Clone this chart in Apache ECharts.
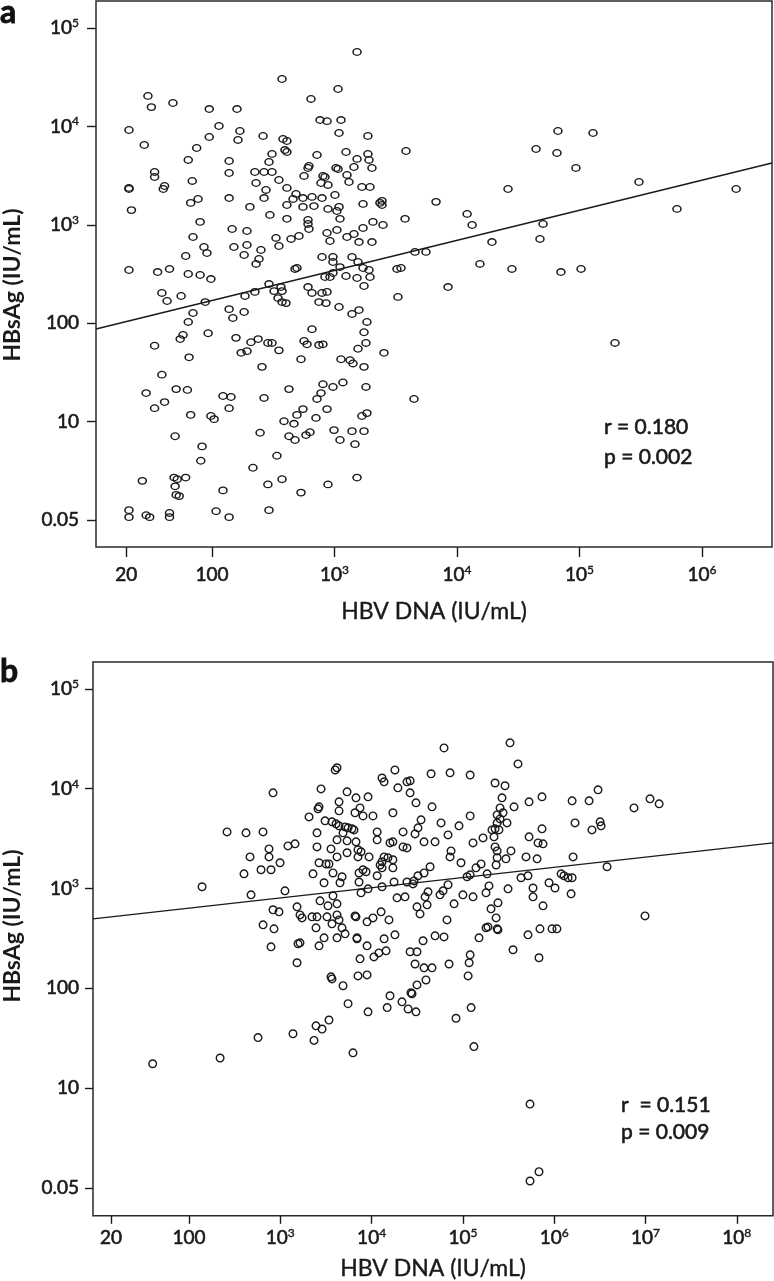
<!DOCTYPE html>
<html>
<head>
<meta charset="utf-8">
<script src="https://cdn.jsdelivr.net/npm/echarts@6/dist/echarts.min.js"></script>
<style>
  html, body { margin: 0; padding: 0; background: #fff; }
  #chart { width: 774px; height: 1281px; }
</style>
</head>
<body>
<div id="chart"></div>
<script>
// panel a: [HBV DNA, HBsAg]
const pointsA = [
  [1528,5.7e4],[373,3.03e4],[1069,2.4e4],[643,1.9e4],[30,2.04e4],[32,1.57e4],[48,1.73e4],[95,1.5e4],[160,1.5e4],[21,9190],
  [114,1.01e4],[169,8980],[163,7280],[95,7800],[261,7980],[380,7450],[409,7110],[762,1.16e4],[869,1.13e4],[1130,1.16e4],
  [1089,8570],[1875,7980],[28,6470],[75,6030],[64,4560],[138,4450],[309,5250],[292,4350],[394,5750],[409,5490],
  [720,5120],[1242,5490],[1528,4670],[1875,5250],[1914,4560],[34,3440],[34,3060],[69,2790],[138,3360],[224,3440],
  [266,3440],[309,3440],[352,2850],[619,3960],[608,3780],[564,3130],[805,3130],[836,3060],[1028,3780],[1069,3690],
  [1265,3210],[1313,2720],[1442,3870],[2023,3780],[21,2310],[21,2370],[41,2480],[40,2310],[229,2660],[276,2260],
  [266,1870],[409,2370],[485,2060],[459,1830],[776,2660],[885,2540],[1675,2420],[1950,2420],[22,1410],[67,1670],
  [77,1830],[138,1870],[204,1520],[409,1590],[553,1870],[655,1920],[791,1870],[1009,2010],[680,1550],[553,1520],
  [885,1450],[1089,1520],[1710,1630],[2350,1670],[2443,1750],[80,1070],[297,1260],[409,1150],[608,1120],[608,1020],
  [619,906],[1047,1380],[1109,1150],[1710,927],[2061,1070],[2489,995],[146,906],[193,865],[869,826],[919,684],
  [1047,885],[1265,752],[1442,807],[1585,668],[2023,668],[70,752],[86,595],[91,516],[61,482],[151,595],
  [193,623],[251,555],[183,493],[242,449],[229,400],[333,735],[352,609],[442,718],[513,770],[791,471],
  [972,471],[972,419],[1109,372],[1390,471],[1556,419],[1710,364],[1914,347],[476,356],[494,364],[21,347],
  [36,331],[45,356],[64,316],[80,309],[98,281],[836,295],[919,295],[972,324],[1242,302],[1528,288],
  [1950,295],[3236,356],[292,250],[366,233],[608,233],[1742,239],
  [2443,1590],[3837,5620],[3767,1150],[6745,1710],[4540,530],[5585,530],[3491,364],[3296,185],[8453,233],[1.21e4,1290],
  [1.33e4,995],[1.93e4,668],[1.54e4,400],[2.81e4,356],[2.61e4,2310],[4.42e4,5890],[6.67e4,8980],[6.55e4,5370],[1.29e5,8570],[9.36e4,3780],
  [5.04e4,1020],[4.76e4,718],[7.06e4,331],[1.03e5,356],[3.06e5,2720],[6.25e5,1450],[1.9e6,2310],[2535,50],[4457,17],[1.95e5,63],
  [39,203],[43,168],[56,189],[88,164],[186,189],[224,208],[321,212],[373,212],[346,180],[373,164],
  [402,160],[655,203],[791,203],[869,208],[747,164],[853,160],[1089,146],[1390,124],[1585,136],[70,127],
  [64,103],[138,139],[148,113],[183,130],[1841,103],[34,59],[58,76],[55,69],[93,79],[157,71],
  [208,64],[238,69],[286,63],[309,63],[352,53],[173,50],[193,52],[655,87],[564,66],[597,61],
  [747,60],[805,61],[1742,81],[1807,63],[1556,55],[65,45],[533,43],[1340,42],[1416,39],[1130,43],
  [1742,36],[256,36],[39,30],[29,19.5],[41,15.8],[34,13.7],[51,21.4],[63,21],[123,18.2],[143,17.8],
  [138,13.7],[266,17.4],[425,21.4],[1172,25],[805,24],[776,19.5],[720,17],[972,22.5],[1807,22.5],[553,13.4],
  [494,11.7],[869,13.4],[706,10.9],[67,11.7],[98,11.4],[104,10.6],[1675,11.4],[1841,12.2],[387,10.1],[467,9.5],
  [247,7.7],[50,7.1],[425,7.1],[476,6.5],[585,7.3],[631,7.8],[991,8.2],[1109,6.5],[1390,8.0],[1469,5.9],
  [1742,8.0],[83,5.6],[81,4.0],[339,4.5],[216,3.4],[27,2.5],[49,2.7],[52,2.6],[61,2.7],[50,2.2],
  [51,1.8],[54,1.75],[123,2.0],[286,2.3],[373,2.6],[533,1.9],[885,2.3],[1528,2.7],[21,1.26],[21,1.07],
  [29,1.12],[31,1.07],[45,1.18],[45,1.07],[108,1.23],[138,1.07],[292,1.26]
];

// panel b
const pointsB = [
  [139,1040],[261,3690],[219,20],[40,17.5],
  [4178,1.62e4],[3990,1.54e4],[1.8e4,1.54e4],[1.3e4,1.28e4],[1.37e4,1.17e4],[832,9080],[2793,9950],[5383,9290],[1.94e4,1.02e4],[4395,7380],
  [6745,8090],[9141,8280],[2655,6580],[2588,6280],[4395,6000],[7464,6420],[6577,5730],[8052,5330],[1.035e4,5330],[1.71e4,5730],
  [2063,5210],[3090,4760],[3681,4650],[4074,4440],[4395,4240],[5117,4140],[5521,4050],[6095,3960],[6412,3860],[4864,3610],
  [2523,3610],[1.15e4,3690],[421,3610],[647,3690],[1213,2670],[1449,2800],[752,2490],[2523,2610],[4178,3070],[5383,3000],
  [6745,2930],[1.15e4,3070],[1.59e4,2860],[1.71e4,2930],[3589,2490],[7096,2440],[7656,2330],[466,2070],[752,2070],[5383,2280],
  [4178,2070],[7096,2070],[9376,2070],[1.37e4,2070],[1.51e4,2030],
  [993,1810],[400,1400],[615,1540],[791,1540],[2281,1400],[2655,1810],[3170,1760],[3412,1760],[1.3e4,1850],[1.71e4,1940],
  [3776,1430],[4742,1310],[4508,1140],[3013,1140],[7278,1430],[8052,1540],[8690,1470],[1.15e4,1340],[1.3e4,1610],[1.71e4,1610],
  [1.24e4,1720],[7278,1160],[1.3e4,1040],[1.76e4,1160],[9141,991],[7656,904],[478,863],[1125,946],[3776,843],[2723,751],
  [3327,670],[4178,701],[1.9e4,805],[1524,654],[832,611],[968,583],[1644,543],[1730,507],[2223,519],[2523,519],
  [3246,519],[4178,543],[4395,484],[6577,531],[6745,519],[1.035e4,507],[1.27e4,583],[1.55e4,484],[8913,463],[647,432],
  [853,394],[2460,403],[3681,442],[4742,403],[5117,351],[4178,320],[3013,320],[1644,285],[1563,279],[791,260],
  [2655,266],[6918,313],[6918,320],[8913,266],[1.37e4,313],[1.8e4,343],[1.06e4,206],[1.2e4,226],[1.44e4,237],[7464,197],
  [1524,180],[7096,133],[8913,136],[3589,130],[3681,124],[4864,106],[1.59e4,84],[5521,70],[1.48e4,64],[9141,58],
  [3412,48],[2460,42],[2864,39],[2339,30],[1377,35],[570,32],[6252,22.5],
  [6.21e4,2.56e4],[3.28e5,2.88e4],[4.01e5,1.77e4],[4.48e4,1.41e4],[7.23e4,1.44e4],[1.2e5,1.37e4],[2.25e5,1.14e4],[2.89e5,1.07e4],[2.64e4,1.2e4],[2.44e4,1.17e4],
  [2.64e4,9080],[2.68e5,8090],[3.06e4,7210],[4.59e4,6580],[3.63e5,6580],[5.3e5,7380],[7.35e5,8280],[1.57e6,7550],[2.55e5,6420],[2.37e5,5460],
  [2.75e5,5730],[2.55e5,4980],[3.04e5,4540],[2.37e5,4540],[3.48e4,4870],[5.76e4,4540],[9.06e4,4240],[1.2e5,5330],[1.69e6,4540],[3.22e4,4050],
  [2.99e4,3520],[2.21e4,3690],[6.87e4,3440],[2.08e5,3860],[2.25e5,3960],[2.48e5,3860],[2.19e5,3290],[1.66e5,3210],[7.35e5,3960],[5.3e5,3290],
  [6.65e5,2860],[7.54e5,2800],[1.29e5,2860],[3.75e4,2930],[4.95e4,2930],[2.21e4,2610],[2.44e4,2550],[2.25e5,2610],[2.37e5,2380],[3.36e5,2380],
  [7.41e4,2380],[7.23e4,2070],[2.37e5,2030],[4.91e5,2070],[6.49e5,1980],[1.61e6,2070],
  [9.53e4,1810],[2.96e5,1980],[1.39e5,1610],[1.58e5,1760],[2.31e5,1720],[4.37e4,1650],[3.75e4,1430],[3.22e4,1340],[2.91e4,1190],[2.44e4,1160],
  [2.84e4,1110],[1.11e5,1310],[1.2e5,1370],[1.84e5,1400],[4.33e5,1280],[5.16e5,1340],[1.19e6,1400],[1.28e6,1340],[1.42e6,1280],[1.57e6,1280],
  [6.87e4,1090],[1.93e5,1060],[3.12e5,991],[5.86e5,1010],[5.86e5,824],[8.77e5,1140],[1.02e6,1010],[1.53e6,883],[2.32e4,824],[4.15e4,925],
  [3.85e4,824],[4.05e4,685],[3.14e4,654],[3.39e4,556],[5.61e4,863],[6.06e4,946],[1.0e5,863],[1.29e5,824],[1.79e5,904],[8.0e4,701],
  [2.42e5,718],[2.03e5,625],[7.54e5,670],[6.7e4,484],[2.31e5,507],[1.79e5,403],[1.88e5,412],[2.37e5,394],[2.42e5,385],[1.5e5,320],
  [3.66e4,299],[4.95e4,335],[6.21e4,327],[5.16e5,343],[6.98e5,394],[9.46e5,394],[1.07e6,394],[2.64e4,232],[3.14e4,232],[3.54e5,243],
  [6.81e5,202],[1.2e5,216],[1.17e5,180],[1.14e5,133],[7.05e4,175],[2.99e4,175],[3.75e4,160],[4.59e4,160],[3.94e4,121],[3.14e4,108],
  [2.7e4,90],[2.77e4,88],[2.15e4,73],[1.23e5,64],[2.51e4,62],[3.06e4,58],[8.4e4,50],[1.32e5,26],[5.43e5,6.9],[5.43e5,1.17],
  [6.81e5,1.45],[3.02e6,9730],[2.41e6,7550],[3.18e6,4650],[3.26e6,4240],[2.59e6,3860],[7.48e6,6420],[1.12e7,7910],[1.41e7,7050],[3.79e6,1650],
  [9.87e6,531]
];

// fitted lines, ends at the plot edges
const fitA = [[11.3, 87.3], [3.73e6, 4246]];
const fitB = [[8.88, 496], [2.49e8, 2864]];

const statsA = ['r = 0.180', 'p = 0.002'];
const statsB = ['r  = 0.151', 'p = 0.009'];

// tick positions and the text printed there
const yTickVals = [1, 10, 100, 1e3, 1e4, 1e5];
const yTickLabels = ['0.05', '10', '100', '10^3', '10^4', '10^5'];
const xTickValsA = [20, 100, 1e3, 1e4, 1e5, 1e6];
const xTickLabelsA = ['20', '100', '10^3', '10^4', '10^5', '10^6'];
const xTickValsB = [14, 100, 1e3, 1e4, 1e5, 1e6, 1e7, 1e8];
const xTickLabelsB = ['20', '100', '10^3', '10^4', '10^5', '10^6', '10^7', '10^8'];

const ink = '#1a1a1a';
const font = 'Lato';

function tickText(vals, labels) {
  return function (v) {
    let best = 0;
    for (let i = 1; i < vals.length; i++) {
      if (Math.abs(Math.log10(vals[i] / v)) < Math.abs(Math.log10(vals[best] / v))) best = i;
    }
    const parts = labels[best].split('^');
    return parts.length > 1 ? '{n|' + parts[0] + '}{s|' + parts[1] + '}' : '{n|' + parts[0] + '}';
  };
}

// a thin outline in the text colour gives the semi-bold look of the original
const rich = {
  n: { fontSize: 19, fontFamily: font, color: ink, lineHeight: 22, textBorderColor: ink, textBorderWidth: 0.6 },
  s: { fontSize: 12, fontFamily: font, color: ink, lineHeight: 12, verticalAlign: 'top', textBorderColor: ink, textBorderWidth: 0.4 }
};

function xAxisFor(grid, min, max, vals, labels, gap, margin, tickLen) {
  return {
    gridIndex: grid, type: 'log', logBase: 10, min: min, max: max,
    name: 'HBV DNA (IU/mL)', nameLocation: 'middle', nameGap: gap,
    nameTextStyle: { fontFamily: font, fontSize: 23, color: ink, textBorderColor: ink, textBorderWidth: 0.4 },
    axisLine: { show: false },
    axisTick: { show: true, customValues: vals, length: tickLen, lineStyle: { color: ink, width: 1.4 } },
    axisLabel: { customValues: vals, formatter: tickText(vals, labels), rich: rich, margin: margin },
    splitLine: { show: false },
    minorTick: { show: false }
  };
}

function yAxisFor(grid, min, max, margin, tickLen) {
  return {
    gridIndex: grid, type: 'log', logBase: 10, min: min, max: max,
    axisLine: { show: false },
    axisTick: { show: true, customValues: yTickVals, length: tickLen, lineStyle: { color: ink, width: 1.4 } },
    axisLabel: { customValues: yTickVals, formatter: tickText(yTickVals, yTickLabels), rich: rich, margin: margin },
    splitLine: { show: false },
    minorTick: { show: false }
  };
}

const circle = 'path://M0 5A5 5 0 1 0 10 5A5 5 0 1 0 0 5Z';

function statText(lines, x, y, gap) {
  return lines.map(function (t, i) {
    return {
      type: 'text', x: x, y: y + i * gap,
      style: { text: t, font: '21px ' + font, fill: ink, stroke: ink, lineWidth: 0.6, verticalAlign: 'middle' }
    };
  });
}

function yTitle(x, y) {
  return {
    type: 'text', x: x, y: y, rotation: Math.PI / 2,
    style: { text: 'HBsAg (IU/mL)', font: 'bold 23px ' + font, fill: ink, align: 'center', verticalAlign: 'middle' }
  };
}

const chart = echarts.init(document.getElementById('chart'));

const option = {
  backgroundColor: '#fff',
  animation: false,
  grid: [
    { left: 96, top: 1, right: 2, bottom: 734, show: true, borderColor: '#2a2a2a', borderWidth: 1.5, containLabel: false },
    { left: 93, top: 662, right: 1, bottom: 65, show: true, borderColor: '#2a2a2a', borderWidth: 1.5, containLabel: false }
  ],
  xAxis: [
    xAxisFor(0, 11.3, 3.73e6, xTickValsA, xTickLabelsA, 53, 17, 10),
    xAxisFor(1, 8.88, 2.49e8, xTickValsB, xTickLabelsB, 41, 11, 8)
  ],
  yAxis: [
    yAxisFor(0, 0.532, 1.88e5, 17, 9),
    yAxisFor(1, 0.524, 1.86e5, 14, 8)
  ],
  graphic: [
    { type: 'text', x: 0, y: 13, style: { text: 'a', font: 'bold 32px ' + font, fill: '#111', stroke: '#111', lineWidth: 0.8, verticalAlign: 'middle' } },
    { type: 'text', x: 0, y: 672, style: { text: 'b', font: 'bold 32px ' + font, fill: '#111', stroke: '#111', lineWidth: 0.8, verticalAlign: 'middle' } },
    yTitle(13, 285),
    yTitle(13, 926)
  ].concat(statText(statsA, 604, 427, 30), statText(statsB, 621, 1105, 27)),
  series: [
    {
      type: 'scatter', xAxisIndex: 0, yAxisIndex: 0, data: pointsA,
      symbol: circle, symbolSize: [8, 6.6], silent: true,
      itemStyle: { color: 'rgba(0,0,0,0)', borderColor: ink, borderWidth: 1.4, opacity: 1 }
    },
    {
      type: 'line', xAxisIndex: 0, yAxisIndex: 0, data: fitA,
      showSymbol: false, silent: true, lineStyle: { color: ink, width: 1.4 }
    },
    {
      type: 'scatter', xAxisIndex: 1, yAxisIndex: 1, data: pointsB,
      symbol: circle, symbolSize: [7.6, 7.6], silent: true,
      itemStyle: { color: 'rgba(0,0,0,0)', borderColor: ink, borderWidth: 1.4, opacity: 1 }
    },
    {
      type: 'line', xAxisIndex: 1, yAxisIndex: 1, data: fitB,
      showSymbol: false, silent: true, lineStyle: { color: ink, width: 1.4 }
    }
  ]
};

chart.setOption(option);
</script>
</body>
</html>
